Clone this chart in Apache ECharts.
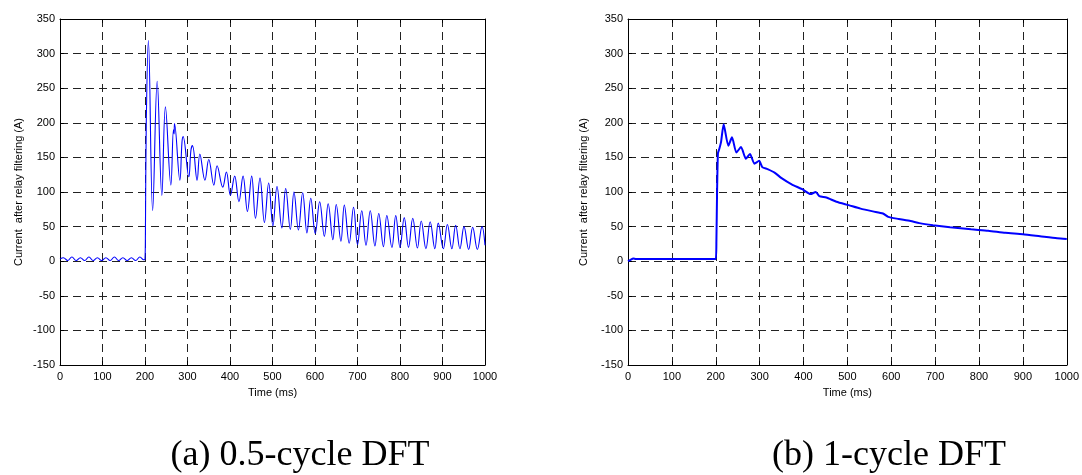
<!DOCTYPE html>
<html><head><meta charset="utf-8">
<script src="https://cdn.jsdelivr.net/npm/echarts/dist/echarts.min.js"></script>
<style>html,body{margin:0;padding:0;background:#fff}#c{width:1082px;height:475px}</style>
</head><body><div id="c"></div>
<script>
// ---- data ----
const xTicks = [0,100,200,300,400,500,600,700,800,900,1000];
const yTicks = [-150,-100,-50,0,50,100,150,200,250,300,350];
const yName = 'Current  after relay filtering (A)';
const xName = 'Time (ms)';
const captionA = '(a) 0.5-cycle DFT';
const captionB = '(b) 1-cycle DFT';

// (a) 0.5-cycle DFT : time (ms)
const timeA = [0,8,18,28,38,48,58,68,78,88,98,108,118,128,138,148,158,168,178,188,197,200,
  201,203,208,218,228.7,239.6,248,260.8,267,268.5,269.4,282,287,289.7,303,308,311.7,322.6,329,341,350,362,369.6,383,391.5,
  401,411,421,430.7,441,451,460,470.6,481,491,501,510.6,522,531,542,550.5,561,571,581,590,600.6,611,622,631,642,650,661,669,
  680.5,690.7,700,710,720,730,741,750,761,769,781,790,800,810,820,830,841,850,861,871,882,890,902,911.5,922,931,941,950.6,
  961.6,971,982,993,1000];
// (a) current (A)
const valueA = [3,5,1,6,1,5,1,6,1,5,1,5,1,6,1,5,1,5,1,6,2,3,
  40,200,319,73,260,95,223,110,190,184,199,117,172,180,122,160,167,117,155,117,147,110,138,107,129,
  95,123,86,123,72,123,62,120,56,113,51,108,48,105,46,100,45,99,41,91,40,86,36,83,31,82,29,81,
  26,78,24,73,23,73,22,69,21,66,20,66,20,63,20,62,19,58,18,57,18,55,18,53,18,52,18,50,
  17,49,17,50,23];

// (b) 1-cycle DFT : time (ms)
const timeB = [0,6,12,18,200,201.5,203,205,208,212,218,228.6,237,247,257.6,268.7,278,288,299,306,318,334,350,373,397,
  416,428,436,452,475,503,530,558,581,593,617,644,664,695,734,782,821,860,900,939,978,1000];
// (b) current (A)
const valueB = [0,2,4,3,3,30,100,156,162,172,198,167,179,157,165,148,155,141,145,136,133,128,120,111,104,
  97,100,94,92,86,81,76,72,69,64,61,58,55,52,49,46,44,41,39,36,33,32];

const pairs = (t, v) => t.map((x, i) => [x, v[i]]);

// ---- chart ----
const chart = echarts.init(document.getElementById('c'), null, {renderer: 'canvas'});
const font = 'Liberation Sans, Arial, sans-serif';
const plain = v => String(v);
const grids = [
  {left: 60, top: 19, width: 425, height: 346},
  {left: 628, top: 19, width: 439, height: 346}
];
function xMain(g) {
  return {type: 'value', gridIndex: g, min: xTicks[0], max: xTicks[xTicks.length-1], interval: 100,
    position: 'bottom',
    name: xName, nameLocation: 'middle', nameGap: 22,
    nameTextStyle: {fontFamily: font, fontSize: 11, color: '#000'},
    axisLine: {show: true, onZero: false, lineStyle: {color: '#000', width: 1}},
    axisTick: {show: true, inside: true, length: 4, lineStyle: {color: '#000'}},
    axisLabel: {fontFamily: font, fontSize: 11, color: '#000', margin: 6, formatter: plain},
    splitLine: {show: true, lineStyle: {color: '#222', width: 1, type: [8, 5]}}
  };
}
function xTop(g) {
  return {type: 'value', gridIndex: g, min: xTicks[0], max: xTicks[xTicks.length-1], interval: 100,
    position: 'top',
    axisLine: {show: true, onZero: false, lineStyle: {color: '#000', width: 1}},
    axisTick: {show: true, inside: true, length: 4, lineStyle: {color: '#000'}},
    axisLabel: {show: false}, splitLine: {show: false}
  };
}
function yMain(g, gap) {
  return {type: 'value', gridIndex: g, min: yTicks[0], max: yTicks[yTicks.length-1], interval: 50,
    position: 'left',
    name: yName, nameLocation: 'middle', nameGap: gap,
    nameTextStyle: {fontFamily: font, fontSize: 11, color: '#000'},
    axisLine: {show: true, onZero: false, lineStyle: {color: '#000', width: 1}},
    axisTick: {show: true, inside: true, length: 4, lineStyle: {color: '#000'}},
    axisLabel: {fontFamily: font, fontSize: 11, color: '#000', margin: 5, formatter: plain},
    splitLine: {show: true, lineStyle: {color: '#222', width: 1, type: [8, 5]}}
  };
}
function yRight(g) {
  return {type: 'value', gridIndex: g, min: yTicks[0], max: yTicks[yTicks.length-1], interval: 50,
    position: 'right',
    axisLine: {show: true, onZero: false, lineStyle: {color: '#000', width: 1}},
    axisTick: {show: true, inside: true, length: 4, lineStyle: {color: '#000'}},
    axisLabel: {show: false}, splitLine: {show: false}
  };
}
const capFont = '36px "Liberation Serif", "Times New Roman", serif';

chart.setOption({
  animation: false,
  backgroundColor: '#fff',
  grid: grids,
  xAxis: [xMain(0), xTop(0), xMain(1), xTop(1)],
  yAxis: [yMain(0, 36), yRight(0), yMain(1, 39), yRight(1)],
  series: [
    {type: 'line', xAxisIndex: 0, yAxisIndex: 0, data: pairs(timeA, valueA), showSymbol: false,
      smooth: 0.4, lineStyle: {color: '#0000ff', width: 1.1}, z: 1},
    {type: 'line', xAxisIndex: 2, yAxisIndex: 2, data: pairs(timeB, valueB), showSymbol: false,
      smooth: 0.2, lineStyle: {color: '#0000ff', width: 2}, z: 1}
  ],
  graphic: [
    {type: 'text', x: 300, y: 456, style: {text: captionA, font: capFont,
      fill: '#000', textAlign: 'center', textVerticalAlign: 'middle'}},
    {type: 'text', x: 889, y: 456, style: {text: captionB, font: capFont,
      fill: '#000', textAlign: 'center', textVerticalAlign: 'middle'}}
  ]
});
</script></body></html>
